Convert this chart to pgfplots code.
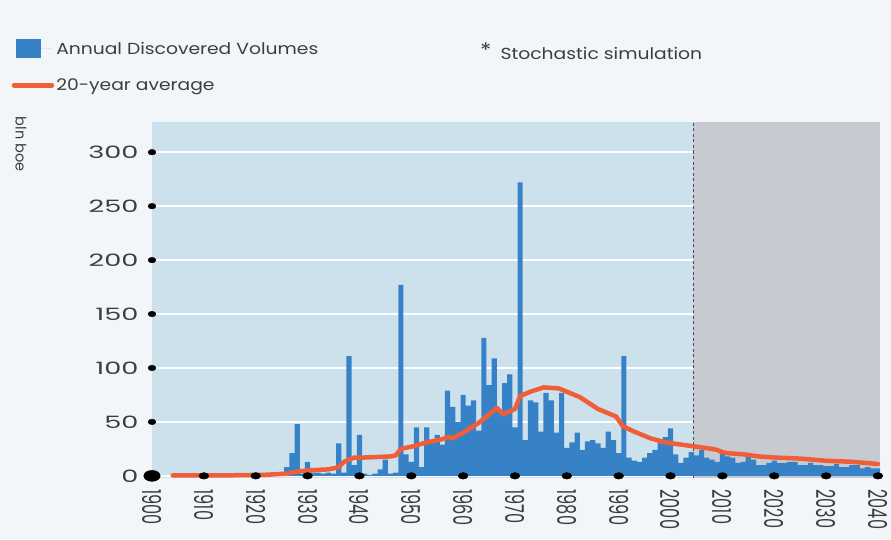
\documentclass[border=0pt]{standalone}
\usepackage{fontspec}
\setmainfont{Poppins}
\newfontfamily\widefont{Poppins}[FakeStretch=1.17]
\newfontfamily\digitfont{Poppins}[FakeStretch=1.6]
\newfontfamily\narrowfont{Poppins}[FakeStretch=0.62]
\usepackage{pgfplots}
\pgfplotsset{compat=1.18}
\usepackage{pgfplotstable}
\definecolor{bgc}{RGB}{243,246,248}
\definecolor{plotblue}{RGB}{205,225,236}
\definecolor{forecastgray}{RGB}{199,203,209}
\definecolor{barblue}{RGB}{55,130,198}
\definecolor{avgorange}{RGB}{240,94,56}
\definecolor{txt}{RGB}{62,62,62}

\pgfplotstableread{
year vol
1925 0
1926 8
1927 21
1928 48
1929 2
1930 13
1931 3
1932 3
1933 2
1934 3
1935 2
1936 30
1937 3
1938 111
1939 10
1940 38
1941 2
1942 1
1943 2
1944 6
1945 15
1946 2
1947 3
1948 177
1949 20
1950 13
1951 45
1952 8
1953 45
1954 31
1955 38
1956 29
1957 79
1958 64
1959 50
1960 75
1961 65
1962 70
1963 42
1964 128
1965 84
1966 109
1967 61
1968 86
1969 94
1970 45
1971 272
1972 33
1973 70
1974 68
1975 41
1976 77
1977 70
1978 40
1979 77
1980 26
1981 31
1982 40
1983 24
1984 32
1985 33
1986 30
1987 26
1988 41
1989 33
1990 21
1991 111
1992 17
1993 14
1994 13
1995 17
1996 21
1997 24
1998 31
1999 36
2000 44
2001 20
2002 12
2003 17
2004 22
2005 19
2006 24
2007 17
2008 15
2009 13
2010 21
2011 18
2012 17
2013 12
2014 13
2015 18
2016 15
2017 10
2018 10
2019 12
2020 14
2021 12
2022 12
2023 13
2024 13
2025 10
2026 10
2027 12
2028 10
2029 10
2030 9
2031 9
2032 11
2033 8
2034 8
2035 10
2036 10
2037 7
2038 8
2039 7
2040 7
}\bars

\pgfplotstableread{
year avg
1904 0.5
1915 0.5
1922 1
1926 2
1928 4
1930 5
1934 6
1936 8
1937 13
1939 17
1941 17
1946 18
1947 19
1948 25
1950 27
1953 31
1956 34
1957 36
1958 35
1960 40
1963 49
1965 57
1966.5 63
1967.7 57
1970 62
1971 74
1973 78
1975.5 82
1978.5 81
1980 78
1982.5 73
1986 62
1989.5 55
1990.8 46
1993 41
1996 35
1999 31
2002 29
2005 27
2008 25
2009 24
2010 22
2011 21
2014 20
2017 18
2020 17
2025 16
2030 14
2035 13
2040 11
}\avgline

\begin{document}
\begin{tikzpicture}
\fill[bgc] (0,0) rectangle (891pt,539pt);
\begin{axis}[
  at={(152pt,61pt)}, anchor=south west,
  scale only axis, width=728pt, height=356pt,
  xmin=1900, xmax=2040.4, ymin=-2, ymax=328,
  axis background/.style={fill=plotblue},
  axis line style={draw=none},
  tick style={draw=none},
  xtick={1900,1910,...,2040},
  ytick={0,50,...,300},
  xticklabel={\pgfmathprintnumber[int detect, 1000 sep={}]{\tick}},
  ymajorgrids,
  grid style={white, line width=1.8pt},
  clip mode=individual,
  xticklabel shift=8pt,
  xticklabel style={font=\narrowfont\fontsize{26}{26}\selectfont, text=txt, rotate=-90, anchor=west},
  yticklabel style={font=\digitfont\fontsize{17}{17}\selectfont, text=txt, anchor=east, xshift=-10pt},
  /pgf/number format/assume math mode=true,
  legend style={at={(-0.197,1.24)}, anchor=north west, draw=none, fill=none,
    font=\widefont\fontsize{16}{16}\selectfont, text=txt, row sep=19pt,
    /tikz/every even column/.append style={column sep=8pt}},
  legend cell align=left,
]
\fill[forecastgray] (axis cs:2004.4,-2) rectangle (axis cs:2040.4,328);
\draw[gray!60!black, dashed, line width=0.9pt, dash pattern=on 3pt off 2.5pt] (axis cs:2004.4,-2) -- (axis cs:2004.4,328);
\addplot[ybar, bar width=1, bar shift=0, fill=barblue, draw=none,
  legend image code/.code={\fill[barblue] (0pt,-9pt) rectangle (25pt,10pt); \path (0pt,0pt) -- (36pt,0pt);}]
  table[x=year, y=vol] {\bars};
\addlegendentry{Annual Discovered Volumes}
\addplot[avgorange, line width=4.5pt, line join=round, line cap=round,
  legend image code/.code={\draw[avgorange, line width=4.5pt] (-2pt,0pt) -- (30pt,0pt); \path (0pt,0pt) -- (36pt,0pt);}]
  table[x=year, y=avg] {\avgline};
\addlegendentry{20-year average}
\addplot[only marks, forget plot, mark=*, mark size=3.3pt, mark options={xscale=1.5, fill=black, draw=black}]
  coordinates {(1910,0) (1920,0) (1930,0) (1940,0) (1950,0) (1960,0) (1970,0) (1980,0) (1990,0) (2000,0) (2010,0) (2020,0) (2030,0) (2040,0)};
\addplot[only marks, forget plot, mark=*, mark size=2.8pt, mark options={xscale=1.4, fill=black, draw=black}]
  coordinates {(1900,50) (1900,100) (1900,150) (1900,200) (1900,250) (1900,300)};
\addplot[only marks, forget plot, mark=*, mark size=5.5pt, mark options={xscale=1.5, fill=black, draw=black}]
  coordinates {(1900,0)};
\end{axis}
\node[anchor=center, rotate=-90, font=\fontsize{14.5}{14.5}\selectfont, text=txt] at (21pt,395pt) {bln boe};
\node[anchor=west, font=\widefont\fontsize{16}{16}\selectfont, text=txt, inner sep=0pt] at (480pt,488pt) {\raisebox{2pt}{\fontsize{20}{20}\selectfont *}\hspace{9pt}Stochastic simulation};
\end{tikzpicture}
\end{document}
